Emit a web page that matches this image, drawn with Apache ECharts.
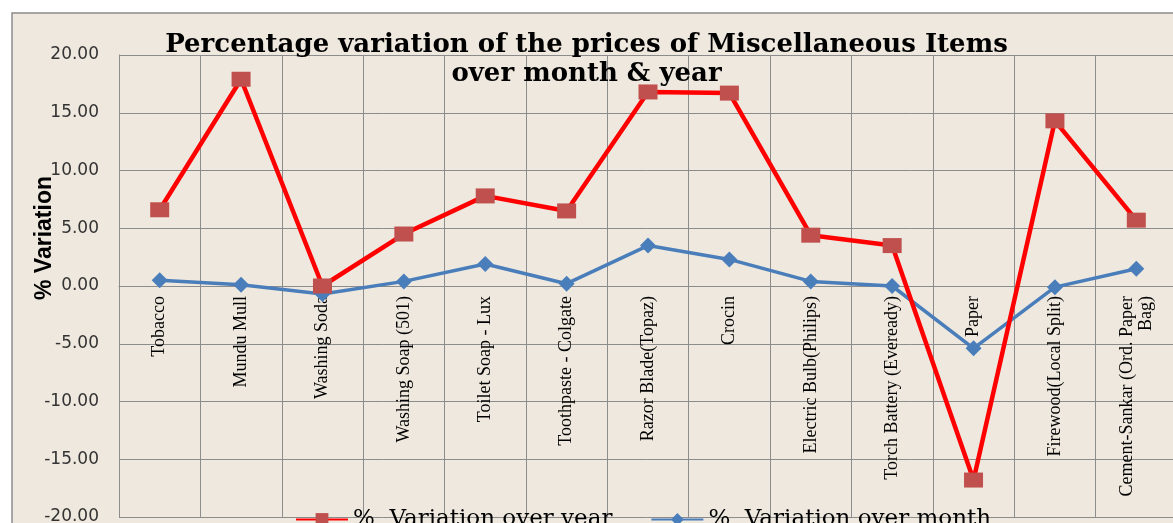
<!DOCTYPE html>
<html>
<head>
<meta charset="utf-8">
<script src="https://cdn.jsdelivr.net/npm/echarts@6/dist/echarts.min.js"></script>
<style>
  html, body { margin: 0; padding: 0; background: #fff; }
  #chart { width: 1173px; height: 523px; }
</style>
</head>
<body>
<div id="chart"></div>
<script>
// items on the x axis
const items = [
  'Tobacco', 'Mundu Mull', 'Washing Soda', 'Washing Soap (501)', 'Toilet Soap - Lux',
  'Toothpaste - Colgate', 'Razor Blade(Topaz)', 'Crocin', 'Electric Bulb(Philips)',
  'Torch Battery (Eveready)', 'Paper', 'Firewood(Local Split)', 'Cement-Sankar (Ord. Paper\nBag)'
]
// % variation over year
const overYear = [6.6, 17.9, 0.0, 4.5, 7.8, 6.5, 16.8, 16.7, 4.4, 3.5, -16.8, 14.3, 5.7]
// % variation over month
const overMonth = [0.5, 0.1, -0.7, 0.4, 1.9, 0.2, 3.5, 2.3, 0.4, 0.0, -5.4, -0.1, 1.5]

const chart = echarts.init(document.getElementById('chart'))

chart.setOption({
  animation: false,
  backgroundColor: '#fff',
  graphic: [
    {
      type: 'rect',
      z: -10,
      shape: { x: 12, y: 13, width: 1170, height: 520 },
      style: { fill: '#EEE8DE', stroke: '#8c8c8c', lineWidth: 1.5 }
    },
    {
      type: 'text',
      left: 33,
      top: 176,
      rotation: Math.PI / 2,
      style: {
        text: '% Variation',
        font: 'bold 23px "Liberation Sans"',
        fill: '#000'
      }
    }
  ],
  title: {
    text: 'Percentage variation of the prices of Miscellaneous Items\nover month & year',
    left: 'center',
    top: 26,
    textStyle: {
      fontFamily: 'DejaVu Serif',
      fontWeight: 'bold',
      fontSize: 26,
      lineHeight: 29,
      color: '#000'
    }
  },
  legend: {
    top: 503,
    left: 290,
    itemWidth: 52,
    itemHeight: 16,
    itemGap: 38,
    textStyle: {
      fontFamily: 'DejaVu Serif',
      fontSize: 23,
      color: '#000'
    },
    data: ['%  Variation over year', '%  Variation over month']
  },
  grid: {
    left: 119,
    top: 55,
    right: -4,
    bottom: 6,
    containLabel: false,
    outerBoundsMode: 'none'
  },
  xAxis: {
    type: 'category',
    data: items,
    boundaryGap: true,
    position: 'bottom',
    // move the axis (and its labels) up to the 0.00 line
    offset: -231,
    axisLine: { onZero: false, lineStyle: { color: '#8c8c8c', width: 1 } },
    axisTick: { show: false },
    splitLine: { show: true, interval: 0, lineStyle: { color: '#8c8c8c', width: 1 } },
    axisLabel: {
      interval: 0,
      rotate: 90,
      margin: 10,
      fontFamily: 'Liberation Serif',
      fontSize: 18,
      lineHeight: 19,
      color: '#000'
    }
  },
  yAxis: {
    type: 'value',
    min: -20,
    max: 20,
    interval: 5,
    axisLine: { show: true, lineStyle: { color: '#8c8c8c' } },
    axisTick: { show: false },
    splitLine: { lineStyle: { color: '#8c8c8c', width: 1 } },
    axisLabel: {
      margin: 20,
      fontFamily: 'DejaVu Sans',
      fontSize: 17,
      color: '#333',
      formatter: v => v.toFixed(2)
    }
  },
  series: [
    {
      name: '%  Variation over year',
      type: 'line',
      data: overYear,
      symbol: 'rect',
      symbolSize: [19, 15],
      itemStyle: { color: '#C0504D' },
      lineStyle: { color: '#FF0000', width: 4.5 },
      z: 3
    },
    {
      name: '%  Variation over month',
      type: 'line',
      data: overMonth,
      symbol: 'diamond',
      symbolSize: 16,
      itemStyle: { color: '#4A7EBB' },
      lineStyle: { color: '#4A7EBB', width: 3.5 },
      z: 2
    }
  ]
})
</script>
</body>
</html>
